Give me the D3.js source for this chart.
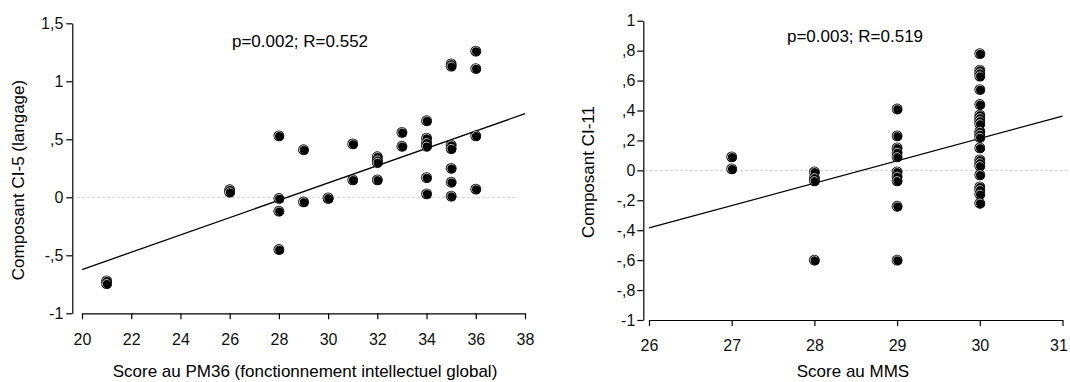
<!DOCTYPE html>
<html>
<head>
<meta charset="utf-8">
<script src="https://cdn.jsdelivr.net/npm/d3@7"></script>
<style>
  body { margin: 0; background: #fff; }
  svg { display: block; font-family: "Liberation Sans", Arial, sans-serif; }
  .axis path, .axis line { stroke: #000; stroke-width: 1.2; }
  .axis text { font-size: 16px; fill: #111; }
</style>
</head>
<body>
<div id="chart"></div>
<script>
// Left panel: PM36 score vs component CI-5
const pm36X = [21, 21, 26, 26, 28, 28, 28, 28, 29, 29, 30, 30, 31, 31,
  32, 32, 32, 32, 33, 33, 34, 34, 34, 34, 34, 34,
  35, 35, 35, 35, 35, 35, 35, 36, 36, 36, 36]
const pm36Y = [-0.72, -0.745, 0.065, 0.045, 0.53, -0.01, -0.12, -0.45, 0.41, -0.04, -0.01, -0.005, 0.46, 0.15,
  0.35, 0.32, 0.30, 0.15, 0.56, 0.44, 0.66, 0.51, 0.47, 0.44, 0.17, 0.03,
  1.15, 1.13, 0.45, 0.42, 0.25, 0.13, 0.01, 1.26, 1.11, 0.53, 0.07]
const pm36Fit = [[20, -0.623], [38, 0.721]]
const pm36XTicks = [20, 22, 24, 26, 28, 30, 32, 34, 36, 38]
const pm36YTicks = [-1, -0.5, 0, 0.5, 1, 1.5]
const pm36YLabels = ['-1', '-,5', '0', ',5', '1', '1,5']

// Right panel: MMS score vs component CI-11
const mmsX = [27, 27, 28, 28, 28, 28,
  29, 29, 29, 29, 29, 29, 29, 29, 29, 29,
  30, 30, 30, 30, 30, 30, 30, 30, 30, 30, 30, 30, 30, 30, 30, 30, 30, 30, 30, 30, 30, 30]
const mmsY = [0.09, 0.01, -0.01, -0.05, -0.07, -0.60,
  0.41, 0.23, 0.15, 0.12, 0.09, -0.01, -0.04, -0.07, -0.24, -0.60,
  0.78, 0.67, 0.65, 0.63, 0.54, 0.44, 0.37, 0.35, 0.33, 0.31, 0.26, 0.24, 0.22, 0.15, 0.07, 0.05, 0.03, -0.03, -0.11, -0.13, -0.16, -0.22]
const mmsFit = [[26, -0.385], [31, 0.363]]
const mmsXTicks = [26, 27, 28, 29, 30, 31]
const mmsYTicks = [-1, -0.8, -0.6, -0.4, -0.2, 0, 0.2, 0.4, 0.6, 0.8, 1]
const mmsYLabels = ['-1', '-,8', '-,6', '-,4', '-,2', '0', ',2', ',4', ',6', ',8', '1']

let svg = d3.select('#chart').append('svg')
  .attr('width', 1070)
  .attr('height', 382)

function drawPanel ({ xs, ys, fit, xTicks, yTicks, yLabels, xDomain, yDomain,
  xRange, yRange, yAxisX, zeroExtent, yPad, xPad, stat, statPos, xTitle, xTitlePos, yTitle, yTitlePos }) {
  let x = d3.scaleLinear().domain(xDomain).range(xRange)
  let y = d3.scaleLinear().domain(yDomain).range(yRange)

  // Dashed zero reference line
  svg.append('line')
    .attr('x1', x(zeroExtent[0]))
    .attr('x2', x(zeroExtent[1]))
    .attr('y1', y(0))
    .attr('y2', y(0))
    .style('stroke', '#cfcfcf')
    .style('stroke-dasharray', '3,2')
    .style('stroke-width', 1)

  // Axes
  let xAxis = svg.append('g')
    .attr('class', 'axis')
    .attr('transform', `translate(0, ${yRange[0]})`)
    .call(d3.axisBottom(x).tickValues(xTicks).tickSize(6).tickSizeOuter(0).tickPadding(xPad).tickFormat(d3.format('d')))

  // keep the last label inside the page
  xAxis.selectAll('.tick text')
    .filter(d => x(d) > 1055)
    .attr('dx', -4)

  svg.append('g')
    .attr('class', 'axis')
    .attr('transform', `translate(${yAxisX}, 0)`)
    .call(d3.axisLeft(y).tickValues(yTicks).tickSize(6).tickSizeOuter(0).tickPadding(yPad)
      .tickFormat((d, i) => yLabels[i]))

  svg.selectAll('.axis .domain').style('fill', 'none')

  // Regression line
  svg.append('path')
    .datum(fit)
    .attr('d', d3.line().x(d => x(d[0])).y(d => y(d[1])))
    .style('fill', 'none')
    .style('stroke', '#000')
    .style('stroke-width', 1.3)

  // Points: black disk with a light crescent on the upper left
  let pts = svg.append('g')
    .selectAll('g')
    .data(xs.map((v, i) => [v, ys[i]]))
    .enter()
    .append('g')
    .attr('transform', d => `translate(${x(d[0])}, ${y(d[1])})`)
  pts.append('circle').attr('r', 5.4).style('fill', '#000')
  pts.append('circle').attr('r', 4.2).style('fill', 'none').style('stroke', '#ddd').style('stroke-width', 0.9)
  pts.append('circle').attr('r', 4.1).attr('cx', 0.9).attr('cy', 0.9).style('fill', '#000')

  // Texts
  svg.append('text')
    .attr('x', statPos[0]).attr('y', statPos[1])
    .attr('text-anchor', 'middle')
    .style('font-size', '17px')
    .text(stat)

  svg.append('text')
    .attr('x', xTitlePos[0]).attr('y', xTitlePos[1])
    .attr('text-anchor', 'middle')
    .style('font-size', '17px')
    .text(xTitle)

  svg.append('text')
    .attr('transform', `translate(${yTitlePos[0]}, ${yTitlePos[1]}) rotate(-90)`)
    .attr('text-anchor', 'middle')
    .style('font-size', '17px')
    .text(yTitle)
}

drawPanel({
  xs: pm36X, ys: pm36Y, fit: pm36Fit,
  xTicks: pm36XTicks, yTicks: pm36YTicks, yLabels: pm36YLabels,
  xDomain: [20, 38], yDomain: [-1, 1.5],
  xRange: [82, 525], yRange: [313.3, 23.3], yAxisX: 72.3,
  zeroExtent: [19.8, 37.7], yPad: 3, xPad: 14,
  stat: 'p=0.002; R=0.552', statPos: [300, 47],
  xTitle: 'Score au PM36 (fonctionnement intellectuel global)', xTitlePos: [305, 377],
  yTitle: 'Composant CI-5 (langage)', yTitlePos: [24, 180]
})

drawPanel({
  xs: mmsX, ys: mmsY, fit: mmsFit,
  xTicks: mmsXTicks, yTicks: mmsYTicks, yLabels: mmsYLabels,
  xDomain: [26, 31], yDomain: [-1, 1],
  xRange: [649, 1062.5], yRange: [320, 20.7], yAxisX: 643.3,
  zeroExtent: [25.95, 31.2], yPad: 2, xPad: 14,
  stat: 'p=0.003; R=0.519', statPos: [855, 42],
  xTitle: 'Score au MMS', xTitlePos: [853, 377],
  yTitle: 'Composant CI-11', yTitlePos: [594, 172]
})
</script>
</body>
</html>
